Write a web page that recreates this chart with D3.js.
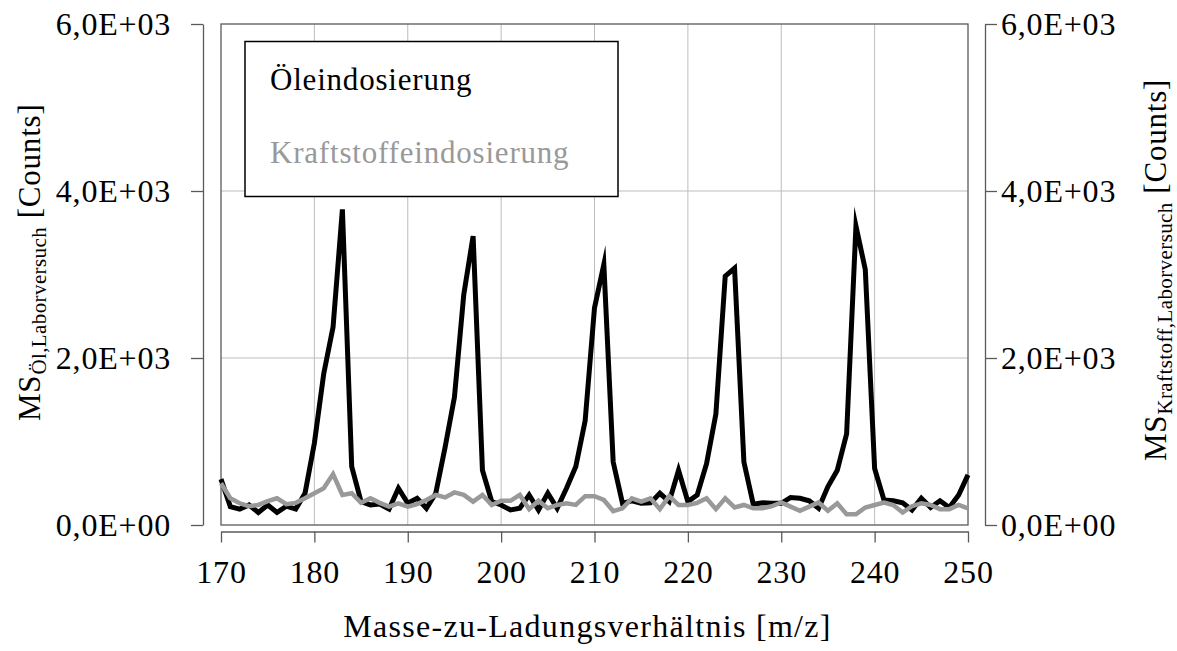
<!DOCTYPE html>
<html>
<head>
<meta charset="utf-8">
<script src="https://cdn.jsdelivr.net/npm/d3@7"></script>
<style>
  html, body { margin: 0; padding: 0; background: #fff; }
  svg { display: block; }
  text { font-family: "Liberation Serif", "Times New Roman", serif; fill: #000; }
</style>
</head>
<body>
<svg id="chart" width="1177" height="651"></svg>
<script>
// Mass-to-charge ratio axis (m/z), one sample per unit
const massToCharge = d3.range(170, 251);

// Counts measured with oil dosing (left axis)
const oilCounts = [
  550, 220, 190, 240, 150, 240, 150, 225, 190, 380,
  980, 1810, 2370, 3780, 700, 280, 240, 250, 190, 440,
  260, 320, 200, 380, 930, 1530, 2760, 3460, 656, 280,
  240, 180, 200, 360, 180, 380, 200, 440, 700, 1250,
  2600, 3120, 755, 260, 290, 260, 265, 380, 280, 656,
  280, 360, 735, 1330, 2980, 3075, 755, 250, 265, 260,
  260, 330, 320, 290, 200, 460, 656, 1090, 3580, 3060,
  676, 300, 290, 265, 180, 320, 210, 290, 210, 360,
  600
];

// Counts measured with fuel dosing (right axis)
const fuelCounts = [
  500, 320, 260, 225, 240, 285, 320, 250, 265, 320,
  380, 440, 610, 360, 380, 265, 320, 265, 220, 260,
  220, 250, 300, 360, 330, 390, 360, 280, 360, 240,
  290, 290, 360, 190, 290, 200, 240, 260, 240, 345,
  345, 300, 167, 200, 320, 280, 320, 190, 345, 240,
  240, 265, 320, 190, 320, 210, 240, 200, 200, 225,
  270, 220, 170, 220, 270, 170, 260, 128, 128, 210,
  240, 270, 240, 150, 225, 260, 240, 190, 190, 240,
  200
];

const xTicks = [170, 180, 190, 200, 210, 220, 230, 240, 250];
const yTicks = [0, 2000, 4000, 6000];
const seriesNames = ["Öleindosierung", "Kraftstoffeindosierung"];
const seriesColors = ["#000000", "#999999"];

// Scientific notation with a decimal comma, e.g. 4,0E+03
function sciComma(v) {
  if (v === 0) return "0,0E+00";
  const e = Math.floor(Math.log10(Math.abs(v)));
  const m = v / Math.pow(10, e);
  return m.toFixed(1).replace(".", ",") + "E" + (e < 0 ? "-" : "+") + String(Math.abs(e)).padStart(2, "0");
}

const svg = d3.select("#chart");
const plot = { left: 221, right: 968, top: 24, bottom: 525 };
const axisGray = "#5a5a5a";
const gridGray = "#bdbdbd";
const tickFont = 32;
const textFont = 31;

const x = d3.scaleLinear().domain([170, 250]).range([plot.left, plot.right]);
const yLeft = d3.scaleLinear().domain([0, 6000]).range([plot.bottom, plot.top]);
const yRight = d3.scaleLinear().domain([0, 6000]).range([plot.bottom, plot.top]);

// Grid
const grid = svg.append("g");
grid.selectAll("line.vx")
  .data(xTicks.slice(1, -1))
  .join("line")
  .attr("x1", d => x(d)).attr("x2", d => x(d))
  .attr("y1", plot.top).attr("y2", plot.bottom)
  .attr("stroke", gridGray).attr("stroke-width", 1);
grid.selectAll("line.hy")
  .data(yTicks.slice(1, -1))
  .join("line")
  .attr("x1", plot.left).attr("x2", plot.right)
  .attr("y1", d => yLeft(d)).attr("y2", d => yLeft(d))
  .attr("stroke", gridGray).attr("stroke-width", 1);

// Plot frame
svg.append("rect")
  .attr("x", plot.left).attr("y", plot.top)
  .attr("width", plot.right - plot.left).attr("height", plot.bottom - plot.top)
  .attr("fill", "none").attr("stroke", axisGray).attr("stroke-width", 1.3);

function styleAxis(g) {
  g.select(".domain").attr("stroke", axisGray).attr("stroke-width", 1.3);
  g.selectAll(".tick line").attr("stroke", axisGray).attr("stroke-width", 1.3);
  g.selectAll(".tick text")
    .attr("font-size", tickFont)
    .attr("letter-spacing", "0.8px")
    .attr("font-family", "'Liberation Serif', 'Times New Roman', serif")
    .attr("fill", "#000");
}

// Left axis (oil)
const gLeft = svg.append("g")
  .attr("transform", "translate(203,0)")
  .call(d3.axisLeft(yLeft).tickValues(yTicks).tickFormat(sciComma).tickSize(12).tickSizeOuter(0).tickPadding(20));
styleAxis(gLeft);
gLeft.selectAll(".tick text").attr("dy", "0.34em");

// Right axis (fuel)
const gRight = svg.append("g")
  .attr("transform", "translate(985,0)")
  .call(d3.axisRight(yRight).tickValues(yTicks).tickFormat(sciComma).tickSize(12).tickSizeOuter(0).tickPadding(4));
styleAxis(gRight);
gRight.selectAll(".tick text").attr("dy", "0.34em");

// Bottom axis
const gBottom = svg.append("g")
  .attr("transform", "translate(0,531.5)")
  .call(d3.axisBottom(x).tickValues(xTicks).tickFormat(d3.format("d")).tickSize(11).tickSizeOuter(0));
styleAxis(gBottom);
gBottom.selectAll(".tick text").attr("y", 51.5).attr("dy", 0);

// Series lines
const lineLeft = d3.line().x((d, i) => x(massToCharge[i])).y(d => yLeft(d));
const lineRight = d3.line().x((d, i) => x(massToCharge[i])).y(d => yRight(d));

svg.append("path")
  .datum(oilCounts)
  .attr("d", lineLeft)
  .attr("fill", "none")
  .attr("stroke", seriesColors[0])
  .attr("stroke-width", 5)
  .attr("stroke-linejoin", "miter")
  .attr("stroke-miterlimit", 10);

svg.append("path")
  .datum(fuelCounts)
  .attr("d", lineRight)
  .attr("fill", "none")
  .attr("stroke", seriesColors[1])
  .attr("stroke-width", 4.5)
  .attr("stroke-linejoin", "miter")
  .attr("stroke-miterlimit", 10);

// Legend
const legend = svg.append("g");
legend.append("rect")
  .attr("x", 245).attr("y", 41.5).attr("width", 373).attr("height", 155)
  .attr("fill", "#fff").attr("stroke", "#000").attr("stroke-width", 1.5);
legend.selectAll("text")
  .data(seriesNames)
  .join("text")
  .attr("x", 270)
  .attr("y", (d, i) => 90 + i * 73)
  .attr("font-size", textFont)
  .attr("letter-spacing", "0.8px")
  .style("fill", (d, i) => seriesColors[i])
  .text(d => d);

// Axis titles
svg.append("text")
  .attr("x", (plot.left + plot.right) / 2 - 7)
  .attr("y", 637)
  .attr("text-anchor", "middle")
  .attr("font-size", 32)
  .attr("letter-spacing", "1.3px")
  .text("Masse-zu-Ladungsverhältnis [m/z]");

function yTitle(xPos, yPos, sub) {
  const t = svg.append("text")
    .attr("transform", `translate(${xPos},${yPos}) rotate(-90)`)
    .attr("font-size", textFont)
    .attr("letter-spacing", "0.8px");
  t.append("tspan").text("MS");
  t.append("tspan").attr("font-size", 21).attr("dy", 6).attr("letter-spacing", "0.4px").text(sub);
  t.append("tspan").attr("dy", -6).text("\u00a0[Counts]");
}
yTitle(40, 421, "Öl,Laborversuch");
yTitle(1166, 461, "Kraftstoff,Laborversuch");
</script>
</body>
</html>
